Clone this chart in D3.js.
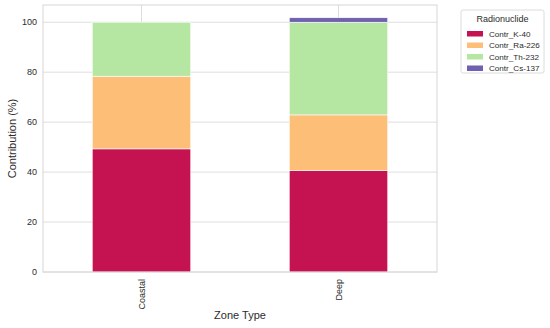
<!DOCTYPE html>
<html>
<head>
<meta charset="utf-8">
<script src="https://cdn.jsdelivr.net/npm/d3@7"></script>
<style>
  body { margin: 0; background: #fff; }
  text { font-family: "Liberation Sans", Arial, sans-serif; fill: #2b2b2b; }
</style>
</head>
<body>
<div id="chart"></div>
<script>
var zones = ["Coastal", "Deep"];
var nuclides = ["Contr_K-40", "Contr_Ra-226", "Contr_Th-232", "Contr_Cs-137"];
var k40 = [49.3, 40.7];
var ra226 = [29.1, 22.2];
var th232 = [21.6, 37.1];
var cs137 = [0, 1.8];
var yTicks = [0, 20, 40, 60, 80, 100];
var colors = ["#c41350", "#fdbf78", "#b5e6a2", "#7060b0"];

var W = 550, H = 328;
var margin = { left: 43, right: 113, top: 5, bottom: 56 };
var width = W - margin.left - margin.right;
var height = H - margin.top - margin.bottom;

var svg = d3.select("#chart").append("svg")
  .attr("width", W)
  .attr("height", H);

var g = svg.append("g")
  .attr("transform", "translate(" + margin.left + "," + margin.top + ")");

var x = d3.scaleBand().domain(zones).range([0, width]).paddingInner(0.5).paddingOuter(0.25);
var y = d3.scaleLinear().domain([0, 106.9]).range([height, 0]);

// grid
g.selectAll("line.hgrid")
  .data(yTicks)
  .enter().append("line")
  .attr("x1", 0).attr("x2", width)
  .attr("y1", d => y(d)).attr("y2", d => y(d))
  .attr("stroke", "#dedede").attr("stroke-width", 1);

g.selectAll("line.vgrid")
  .data(zones)
  .enter().append("line")
  .attr("x1", d => x(d) + x.bandwidth() / 2).attr("x2", d => x(d) + x.bandwidth() / 2)
  .attr("y1", 0).attr("y2", height)
  .attr("stroke", "#dedede").attr("stroke-width", 1);

// stacked bars
var rows = zones.map((z, i) => ({
  zone: z,
  "Contr_K-40": k40[i],
  "Contr_Ra-226": ra226[i],
  "Contr_Th-232": th232[i],
  "Contr_Cs-137": cs137[i]
}));
var stacked = d3.stack().keys(nuclides)(rows);

g.selectAll("g.layer")
  .data(stacked)
  .enter().append("g")
  .attr("fill", (d, i) => colors[i])
  .selectAll("rect")
  .data(d => d)
  .enter().append("rect")
  .attr("x", d => x(d.data.zone))
  .attr("width", x.bandwidth())
  .attr("y", d => y(d[1]))
  .attr("height", d => y(d[0]) - y(d[1]))
  .attr("stroke", "#fff")
  .attr("stroke-width", d => (d[1] - d[0]) > 0 ? 0.6 : 0);

// frame
g.append("rect")
  .attr("width", width).attr("height", height)
  .attr("fill", "none").attr("stroke", "#d6d6d6").attr("stroke-width", 1);

// y ticks
g.selectAll("text.ytick")
  .data(yTicks)
  .enter().append("text")
  .attr("x", -6)
  .attr("y", d => y(d))
  .attr("dy", "0.35em")
  .attr("text-anchor", "end")
  .style("font-size", "9px")
  .text(d => d);

// x ticks (rotated)
g.selectAll("text.xtick")
  .data(zones)
  .enter().append("text")
  .attr("transform", d => "translate(" + (x(d) + x.bandwidth() / 2) + "," + (height + 7) + ") rotate(-90)")
  .attr("dy", "0.35em")
  .attr("text-anchor", "end")
  .style("font-size", "9px")
  .text(d => d);

// axis labels
g.append("text")
  .attr("x", width / 2).attr("y", height + 47)
  .attr("text-anchor", "middle")
  .style("font-size", "11px")
  .text("Zone Type");

g.append("text")
  .attr("transform", "translate(-27," + (height / 2) + ") rotate(-90)")
  .attr("text-anchor", "middle")
  .style("font-size", "11px")
  .text("Contribution (%)");

// legend
var lg = svg.append("g").attr("transform", "translate(461,10)");
lg.append("rect")
  .attr("width", 83).attr("height", 63)
  .attr("rx", 2)
  .attr("fill", "#fff").attr("stroke", "#dcdcdc");
lg.append("text")
  .attr("x", 41.5).attr("y", 12)
  .attr("text-anchor", "middle")
  .style("font-size", "9px")
  .text("Radionuclide");
var items = lg.selectAll("g.item")
  .data(nuclides)
  .enter().append("g")
  .attr("transform", (d, i) => "translate(6," + (24 + i * 11.5) + ")");
items.append("rect")
  .attr("x", 0).attr("y", -3)
  .attr("width", 16).attr("height", 5.5)
  .attr("fill", (d, i) => colors[i]);
items.append("text")
  .attr("x", 22).attr("y", 0)
  .attr("dy", "0.35em")
  .style("font-size", "8.1px")
  .text(d => d);
</script>
</body>
</html>
